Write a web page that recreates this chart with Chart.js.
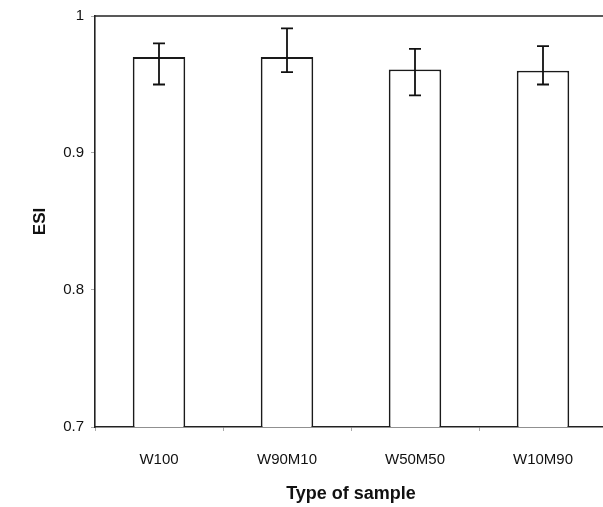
<!DOCTYPE html>
<html>
<head>
<meta charset="utf-8">
<script src="https://cdn.jsdelivr.net/npm/chart.js@4/dist/chart.umd.min.js"></script>
<style>
html,body{margin:0;padding:0;background:#fff;overflow:hidden;width:603px;height:507px;}
#wrap{position:absolute;left:0;top:0;width:607px;height:507px;}
</style>
</head>
<body>
<div id="wrap"><canvas id="c" width="607" height="507"></canvas></div>
<script>
const categories = ['W100', 'W90M10', 'W50M50', 'W10M90'];
const esiValues = [0.970, 0.970, 0.961, 0.960];
const errUpper = [0.980, 0.991, 0.976, 0.978];
const errLower = [0.950, 0.959, 0.942, 0.950];
const yTickValues = [0.7, 0.8, 0.9, 1.0];
const yTickLabels = ['0.7', '0.8', '0.9', '1'];

const errorBarPlugin = {
  id: 'errorBars',
  afterDatasetsDraw(chart) {
    const ctx = chart.ctx;
    const meta = chart.getDatasetMeta(0);
    const y = chart.scales.y;
    ctx.save();
    ctx.strokeStyle = '#111';
    ctx.lineWidth = 1.8;
    meta.data.forEach((bar, i) => {
      const x = bar.x;
      const yt = y.getPixelForValue(errUpper[i]);
      const yb = y.getPixelForValue(errLower[i]);
      const cap = 6;
      ctx.beginPath();
      ctx.moveTo(x, yt); ctx.lineTo(x, yb);
      ctx.moveTo(x - cap, yt); ctx.lineTo(x + cap, yt);
      ctx.moveTo(x - cap, yb); ctx.lineTo(x + cap, yb);
      ctx.stroke();
    });
    const a = chart.chartArea;
    ctx.strokeStyle = '#222';
    ctx.lineWidth = 1.6;
    ctx.beginPath();
    ctx.moveTo(a.left, a.top);
    ctx.lineTo(chart.width, a.top);
    ctx.stroke();
    ctx.restore();
  }
};

new Chart(document.getElementById('c'), {
  type: 'bar',
  data: {
    labels: categories,
    datasets: [{
      data: esiValues,
      backgroundColor: '#ffffff',
      borderColor: '#1a1a1a',
      borderWidth: 1.8,
      borderSkipped: 'bottom',
      categoryPercentage: 0.41,
      barPercentage: 1.0
    }]
  },
  options: {
    responsive: false,
    animation: false,
    layout: { padding: { top: 16, left: 0, right: 0, bottom: 0 } },
    plugins: { legend: { display: false }, tooltip: { enabled: false } },
    scales: {
      x: {
        offset: true,
        grid: { display: true, offset: true, drawOnChartArea: false, drawTicks: true, tickLength: 4, color: '#aaaaaa' },
        border: { display: true, color: '#222', width: 1.6 },
        ticks: { color: '#111', font: { family: 'Liberation Sans, Arial', size: 15 }, padding: 20, maxRotation: 0 },
        title: { display: true, text: 'Type of sample', color: '#111', font: { family: 'Liberation Sans, Arial', size: 18, weight: 'bold' }, padding: { top: 0, bottom: 2 } },
        afterFit(scale) { scale.height = 80; }
      },
      y: {
        min: 0.7, max: 1.0,
        afterBuildTicks(scale) { scale.ticks = yTickValues.map(v => ({ value: v })); },
        grid: { display: true, drawOnChartArea: false, drawTicks: true, tickLength: 4, color: '#aaaaaa' },
        border: { display: true, color: '#222', width: 1.6 },
        ticks: {
          color: '#111', font: { family: 'Liberation Sans, Arial', size: 15 }, padding: 7,
          callback(value) { const i = yTickValues.findIndex(v => Math.abs(v - value) < 1e-6); return i >= 0 ? yTickLabels[i] : ''; }
        },
        title: { display: true, text: 'ESI', color: '#111', font: { family: 'Liberation Sans, Arial', size: 17, weight: 'bold' }, padding: { top: 30, bottom: 0 } },
        afterFit(scale) { scale.width = 95; }
      }
    }
  },
  plugins: [errorBarPlugin]
});
</script>
</body>
</html>
